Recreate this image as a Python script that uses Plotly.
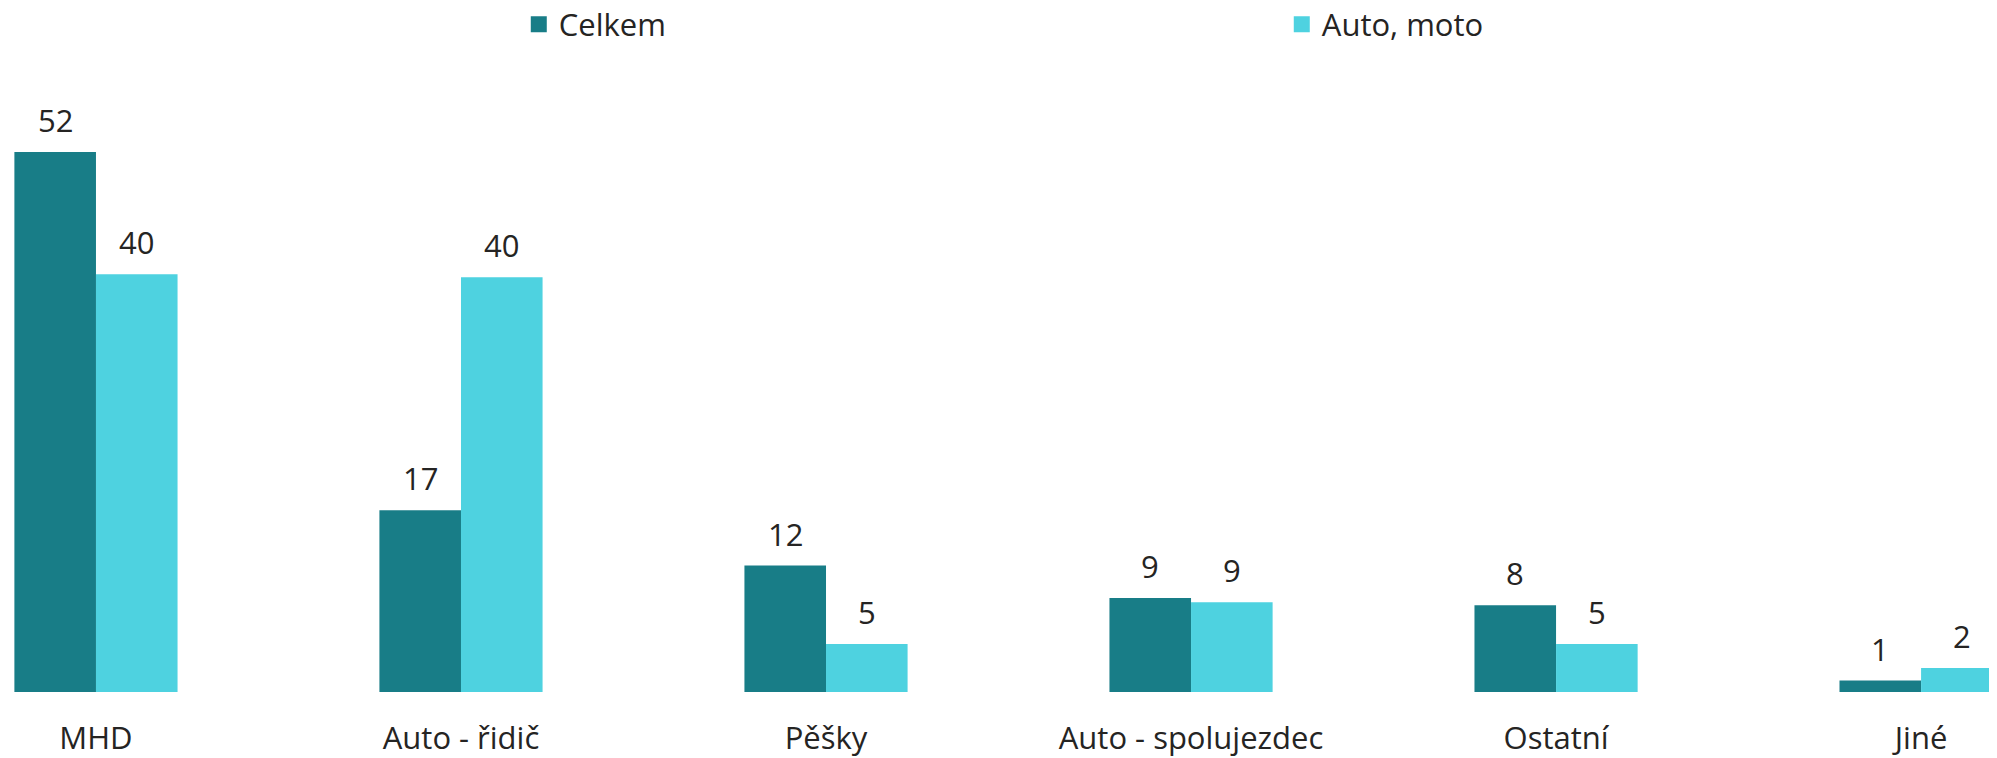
import plotly.graph_objects as go

categories = ["MHD", "Auto - řidič", "Pěšky", "Auto - spolujezdec", "Ostatní", "Jiné"]
celkem = [51.7, 17.4, 12.1, 9.0, 8.3, 1.1]
auto_moto = [40.0, 39.7, 4.6, 8.6, 4.6, 2.3]
series_names = ["Celkem", "Auto, moto"]
colors = ["#187D87", "#4ED2E0"]
text_color = "#252423"
FONT = "Open Sans"

fig = go.Figure()
for name, vals, col in zip(series_names, [celkem, auto_moto], colors):
    fig.add_trace(go.Bar(x=categories, y=vals, name=name, marker_color=col,
                         marker_line_width=0, showlegend=False, hoverinfo="x+y"))
    fig.add_trace(go.Scatter(x=[None], y=[None], mode="markers", name=name,
                             marker=dict(symbol="square", size=16, color=col),
                             showlegend=True))

annotations = []
for shift, vals in zip([-40.75, 40.75], [celkem, auto_moto]):
    for c, v in zip(categories, vals):
        annotations.append(dict(x=c, y=v, xref="x", yref="y", text=f"{round(v):d}",
                                showarrow=False, xshift=shift, yanchor="bottom",
                                yshift=9, font=dict(family=FONT, size=31, color=text_color)))

fig.update_layout(
    width=1989, height=750,
    margin=dict(l=0, r=0, t=52, b=66, autoexpand=False),
    paper_bgcolor="white", plot_bgcolor="white",
    barmode="group", bargap=0.553, bargroupgap=0,
    font=dict(family=FONT, size=31, color=text_color),
    legend=dict(orientation="h", x=0.2568, xanchor="left", y=1.056, yanchor="middle",
                entrywidth=718, entrywidthmode="pixels",
                font=dict(family=FONT, size=31, color=text_color),
                itemsizing="trace"),
    xaxis=dict(range=[-0.241, 5.208], showgrid=False, showline=False, zeroline=False,
               ticks="", ticklabelstandoff=25, automargin=False,
               tickfont=dict(family=FONT, size=31, color=text_color)),
    yaxis=dict(range=[0, 60.5], visible=False, automargin=False),
    annotations=annotations,
)

fig.write_html("out.html")
